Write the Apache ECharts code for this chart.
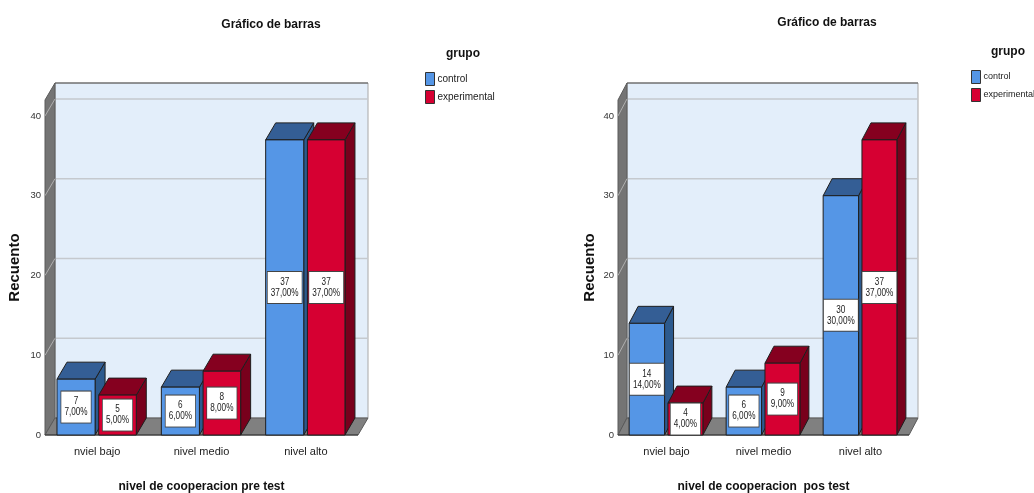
<!DOCTYPE html>
<html>
<head>
<meta charset="utf-8">
<script src="https://cdn.jsdelivr.net/npm/echarts@6/dist/echarts.min.js"></script>
<style>
  html, body { margin: 0; padding: 0; background: #fff; }
  #chart { width: 1034px; height: 493px; }
</style>
</head>
<body>
<div id="chart"></div>
<script>
const categories = ['nviel bajo', 'nivel medio', 'nivel alto']
const groups = ['control', 'experimental']
const preControl = [7, 6, 37]
const preExperimental = [5, 8, 37]
const posControl = [14, 6, 30]
const posExperimental = [4, 9, 37]
const yTicks = [0, 10, 20, 30, 40]
const chartTitle = 'Gráfico de barras'
const legendTitle = 'grupo'
const yTitle = 'Recuento'
const xTitles = ['nivel de cooperacion pre test', 'nivel de cooperacion  pos test']

const FONT = "'Liberation Sans Narrow', 'Arial Narrow', 'Liberation Sans', Arial, sans-serif"
// depth of the 3D effect per chart (px)
const DEPTH = [[10, -17], [9, -17]]
// bar front face offsets inside a category band, fraction of band width
const OFF = [[-0.385, -0.02], [0.015, 0.375]]
const FACES = [
  { front: '#5596E6', top: '#345E95', side: '#2C5A8E' },
  { front: '#D60032', top: '#85001F', side: '#78001C' },
]

const total = [preControl, preExperimental].flat().reduce((a, b) => a + b, 0)
const pct = v => (v / total * 100).toFixed(2).replace('.', ',') + '%'

const wallSeries = k => ({
  type: 'custom', xAxisIndex: k, yAxisIndex: k, silent: true, clip: false, z: 1,
  data: [[0, 0]],
  renderItem: (params, api) => {
    const cs = params.coordSys
    const [dx, dy] = DEPTH[k]
    const x = cs.x, y = cs.y, w = cs.width, h = cs.height
    const els = []
    els.push({ type: 'polygon', shape: { points: [[x + dx, y + dy], [x + w + dx, y + dy], [x + w + dx, y + h + dy], [x + dx, y + h + dy]] },
      style: { fill: '#E3EEFA', stroke: '#A8A8A8', lineWidth: 1 } })
    els.push({ type: 'line', shape: { x1: x + dx, y1: y + dy, x2: x + w + dx, y2: y + dy }, style: { stroke: '#555', lineWidth: 1 } })
    yTicks.forEach(t => {
      if (t === 0) return
      const yt = api.coord([0, t])[1]
      els.push({ type: 'line', shape: { x1: x + dx, y1: yt + dy, x2: x + w + dx, y2: yt + dy }, style: { stroke: '#C5C9CE', lineWidth: 1.5 } })
    })
    els.push({ type: 'polygon', shape: { points: [[x, y], [x + dx, y + dy], [x + dx, y + h + dy], [x, y + h]] },
      style: { fill: '#747474', stroke: '#5A5A5A', lineWidth: 1 } })
    yTicks.forEach(t => {
      if (t === 0) return
      const yt = api.coord([0, t])[1]
      els.push({ type: 'line', shape: { x1: x, y1: yt, x2: x + dx, y2: yt + dy }, style: { stroke: '#B0B0B0', lineWidth: 1 } })
    })
    els.push({ type: 'polygon', shape: { points: [[x, y + h], [x + w, y + h], [x + w + dx, y + h + dy], [x + dx, y + h + dy]] },
      style: { fill: '#808080', stroke: '#5A5A5A', lineWidth: 1 } })
    els.push({ type: 'line', shape: { x1: x, y1: y + h, x2: x + w, y2: y + h }, style: { stroke: '#333', lineWidth: 1.2 } })
    return { type: 'group', children: els }
  },
})

const barSeries = (k, g, values) => ({
  type: 'custom', name: groups[g], xAxisIndex: k, yAxisIndex: k, clip: false, z: 2 + g,
  itemStyle: { color: FACES[g].front },
  data: values.map((v, i) => [i, v]),
  renderItem: (params, api) => {
    const i = api.value(0), v = api.value(1)
    const [dx, dy] = DEPTH[k]
    const bw = api.size([1, 0])[0]
    const base = api.coord([i, 0])
    const top = api.coord([i, v])
    const x0 = base[0] + bw * OFF[g][0], x1 = base[0] + bw * OFF[g][1]
    const yb = base[1], yt = top[1]
    const f = FACES[g]
    const edge = { stroke: '#1E1E1E', lineWidth: 1 }
    return {
      type: 'group',
      children: [
        { type: 'polygon', shape: { points: [[x1, yt], [x1 + dx, yt + dy], [x1 + dx, yb + dy], [x1, yb]] }, style: { fill: f.side, ...edge } },
        { type: 'polygon', shape: { points: [[x0, yt], [x1, yt], [x1 + dx, yt + dy], [x0 + dx, yt + dy]] }, style: { fill: f.top, ...edge } },
        { type: 'rect', shape: { x: x0, y: yt, width: x1 - x0, height: yb - yt }, style: { fill: f.front, ...edge } },
        // SPSS uses a narrow face, squeeze the label horizontally
        { type: 'text', x: (x0 + x1) / 2, y: (yt + yb) / 2, scaleX: 0.78,
          style: { text: v + '\n' + pct(v), font: '10.5px ' + FONT, fill: '#222', align: 'center', verticalAlign: 'middle',
            lineHeight: 11, backgroundColor: '#fff', borderColor: '#444', borderWidth: 1, padding: [5, 4, 4, 4] } },
      ],
    }
  },
})

const grids = [
  { left: 45, top: 100, width: 313, height: 335, outerBoundsMode: 'none', containLabel: false },
  { left: 618, top: 100, width: 291, height: 335, outerBoundsMode: 'none', containLabel: false },
]
const yNameGap = [23, 21]

const xAxis = grids.map((_, k) => ({
  type: 'category', gridIndex: k, data: categories,
  axisLine: { show: false }, axisTick: { show: false },
  axisLabel: { margin: 11, fontSize: 11, color: '#222', fontFamily: FONT },
  name: xTitles[k], nameLocation: 'middle', nameGap: 46,
  nameTextStyle: { fontSize: 12, fontWeight: 'bold', color: '#111', fontFamily: FONT },
}))

const yAxis = grids.map((_, k) => ({
  type: 'value', gridIndex: k, min: 0, max: 42, interval: 10,
  axisLine: { show: false }, axisTick: { show: false }, splitLine: { show: false },
  axisLabel: { margin: 4, fontSize: 9.5, color: '#333', fontFamily: FONT, showMaxLabel: false },
  name: yTitle, nameLocation: 'middle', nameGap: yNameGap[k],
  nameTextStyle: { fontSize: 15, fontWeight: 'bold', color: '#111', fontFamily: FONT },
}))

const titleStyle = { fontSize: 12, fontWeight: 'bold', color: '#111', fontFamily: FONT }
const legendBase = {
  orient: 'vertical', icon: 'rect', itemWidth: 9, itemHeight: 13, itemGap: 4, data: groups, padding: 0,
  itemStyle: { borderColor: '#333', borderWidth: 1 },
}

const chart = echarts.init(document.getElementById('chart'))
chart.setOption({
  animation: false,
  backgroundColor: '#fff',
  title: [
    { text: chartTitle, left: 266, top: 14, textAlign: 'center', textStyle: titleStyle },
    { text: chartTitle, left: 822, top: 12, textAlign: 'center', textStyle: titleStyle },
    { text: legendTitle, left: 458, top: 43, textAlign: 'center', textStyle: titleStyle },
    { text: legendTitle, left: 1003, top: 41, textAlign: 'center', textStyle: titleStyle },
  ],
  legend: [
    { ...legendBase, left: 425, top: 72,
      textStyle: { fontSize: 10, color: '#222', fontFamily: FONT, padding: [0, 0, 0, -2] } },
    { ...legendBase, left: 971, top: 70,
      textStyle: { fontSize: 9, color: '#222', fontFamily: FONT, padding: [0, 0, 0, -2] } },
  ],
  grid: grids,
  xAxis,
  yAxis,
  series: [
    wallSeries(0),
    barSeries(0, 0, preControl),
    barSeries(0, 1, preExperimental),
    wallSeries(1),
    barSeries(1, 0, posControl),
    barSeries(1, 1, posExperimental),
  ],
})
</script>
</body>
</html>
